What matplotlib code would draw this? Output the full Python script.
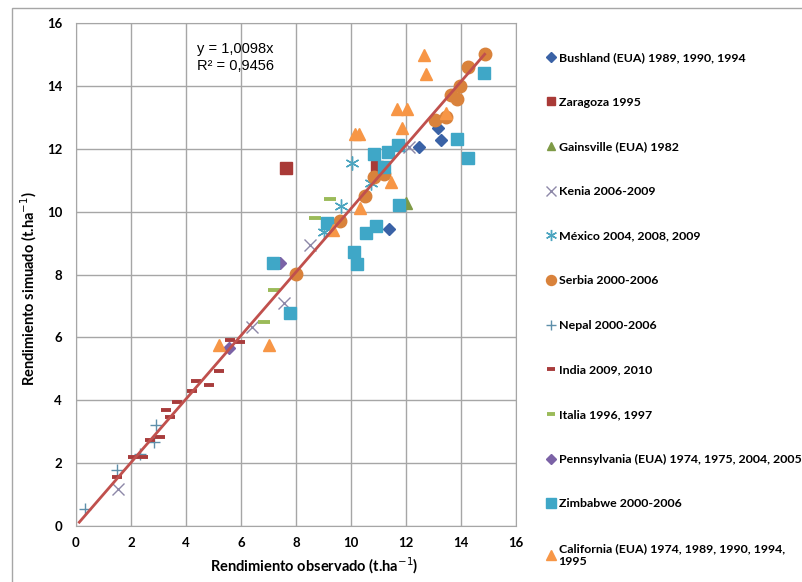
import numpy as np
import matplotlib.pyplot as plt
from matplotlib.patches import Rectangle

# observed (x) vs simulated (y) yield, t/ha, per site
bushland_x = [11.37, 12.46, 13.18, 13.27]
bushland_y = [9.46, 12.07, 12.66, 12.28]
zaragoza_x = [7.62, 10.95]
zaragoza_y = [11.39, 11.43]
gainsville_x = [12.0]
gainsville_y = [10.26]
kenia_x = [1.51, 6.4, 7.55, 8.52, 12.1]
kenia_y = [1.18, 6.33, 7.1, 8.93, 12.07]
mexico_x = [9.03, 9.64, 10.04, 10.74]
mexico_y = [9.36, 10.18, 11.55, 10.9]
serbia_x = [8.01, 9.6, 10.52, 10.82, 11.19, 13.04, 13.45, 13.64, 13.85, 13.95, 14.24, 14.86]
serbia_y = [8.01, 9.7, 10.49, 11.11, 11.2, 12.91, 13.02, 13.7, 13.57, 14.0, 14.6, 15.0]
nepal_x = [0.31, 1.5, 2.31, 2.82, 2.92]
nepal_y = [0.55, 1.77, 2.3, 2.67, 3.2]
india_x = [1.5, 2.07, 2.44, 2.7, 3.04, 3.26, 3.4, 3.68, 4.22, 4.36, 4.85, 5.21, 5.61, 5.95]
india_y = [1.55, 2.19, 2.21, 2.75, 2.83, 3.7, 3.47, 3.94, 4.28, 4.6, 4.5, 4.93, 5.91, 5.85]
italia_x = [6.82, 7.19, 8.7, 9.25]
italia_y = [6.49, 7.5, 9.8, 10.39]
penn_x = [5.55, 7.4]
penn_y = [5.67, 8.35]
zimbabwe_x = [7.16, 7.77, 9.13, 10.12, 10.22, 10.55, 10.92, 10.85, 11.19, 11.33, 11.72, 11.73, 13.85, 14.25, 14.85]
zimbabwe_y = [8.37, 6.78, 9.64, 8.71, 8.32, 9.31, 9.54, 11.83, 11.41, 11.9, 12.11, 10.2, 12.31, 11.71, 14.42]
california_x = [5.21, 7.03, 9.34, 10.34, 10.16, 10.3, 11.45, 11.66, 11.86, 12.04, 12.67, 12.74, 13.45]
california_y = [5.75, 5.75, 9.41, 10.1, 12.47, 12.47, 10.95, 13.25, 12.65, 13.25, 14.98, 14.38, 13.13]

slope = 1.0098
r2 = 0.9456
trend_x = [0.12, 14.86]

series = [
    ('Bushland (EUA) 1989, 1990, 1994', bushland_x, bushland_y, 'D', '#3A62A6', 6.5),
    ('Zaragoza 1995', zaragoza_x, zaragoza_y, 's', '#A93A37', 8),
    ('Gainsville (EUA) 1982', gainsville_x, gainsville_y, '^', '#7E9A46', 8),
    ('Kenia 2006-2009', kenia_x, kenia_y, 'x', '#8D88A8', 9),
    ('México 2004, 2008, 2009', mexico_x, mexico_y, (6, 2, 0), '#4CA5C0', 10),
    ('Serbia 2000-2006', serbia_x, serbia_y, 'o', '#D9823B', 9),
    ('Nepal 2000-2006', nepal_x, nepal_y, '+', '#5E8FAA', 9),
    ('India 2009, 2010', india_x, india_y, '_', '#A83C3C', 7),
    ('Italia 1996, 1997', italia_x, italia_y, '_', '#9BBB59', 8),
    ('Pennsylvania (EUA) 1974, 1975, 2004, 2005', penn_x, penn_y, 'D', '#7B62A6', 6.5),
    ('Zimbabwe 2000-2006', zimbabwe_x, zimbabwe_y, 's', '#3FA7C7', 8.5),
    ('California (EUA) 1974, 1989, 1990, 1994,\n1995', california_x, california_y, '^', '#F79646', 8.5),
]

plt.rcParams['font.family'] = ['Lato', 'DejaVu Sans']

fig = plt.figure(figsize=(8.02, 5.82), dpi=100)
ax = fig.add_axes([76 / 802, 1 - 526 / 582, 440 / 802, 503 / 582])

for label, xs, ys, mk, col, ms in series:
    if mk in ('x', '+') or isinstance(mk, tuple):
        ax.plot(xs, ys, ls='none', marker=mk, color=col, ms=ms, mew=1.0, label=label)
    elif mk == '_':
        ax.plot(xs, ys, ls='none', marker=mk, color=col, ms=ms, mew=2.8, label=label)
    else:
        ax.plot(xs, ys, ls='none', marker=mk, color=col, mec=col, ms=ms, label=label)

tx = np.array(trend_x)
ax.plot(tx, slope * tx, color='#C0504D', lw=2, zorder=5)
ax.text(5.8, 14.9, 'y = {:.4f}x\nR² = {:.4f}'.format(slope, r2).replace('.', ','),
        ha='center', va='center', fontsize=10.5, family='Liberation Sans', linespacing=1.3)

ax.set_xlim(0, 16)
ax.set_ylim(0, 16)
ax.set_xticks(np.arange(0, 17, 2))
ax.set_yticks(np.arange(0, 17, 2))
ax.grid(True, color='#A6A6A6', lw=1)
ax.set_axisbelow(True)
for s in ax.spines.values():
    s.set_color('#A6A6A6')
ax.tick_params(length=0, labelsize=9.5)
ax.tick_params(axis='x', pad=8)
ax.tick_params(axis='y', pad=10)
for t in ax.get_xticklabels() + ax.get_yticklabels():
    t.set_fontweight('bold')
ax.set_xlabel('Rendimiento observado (t.ha$^{-1}$)', fontsize=10.5, fontweight='bold')
ax.set_ylabel('Rendimiento simuado (t.ha$^{-1}$)', fontsize=10.5, fontweight='bold')
ax.xaxis.set_label_coords(0.542, -0.058)
ax.yaxis.set_label_coords(-0.085, 0.473)

leg = ax.legend(loc='upper left', bbox_to_anchor=(540 / 802, 1 - 46 / 582),
                bbox_transform=fig.transFigure, frameon=False, fontsize=8.9,
                labelspacing=2.72, handlelength=0.7, handletextpad=0.3, borderpad=0,
                markerscale=0.8)
for t in leg.get_texts():
    t.set_fontweight('bold')

# outer chart frame (only the top and left edges fall inside the image)
fig.patches.append(Rectangle((12 / 802, -0.2), 1.2, 1.2 - 8 / 582, transform=fig.transFigure,
                             fill=False, ec='#A6A6A6', lw=1))

fig.savefig('out.png', dpi=100)
